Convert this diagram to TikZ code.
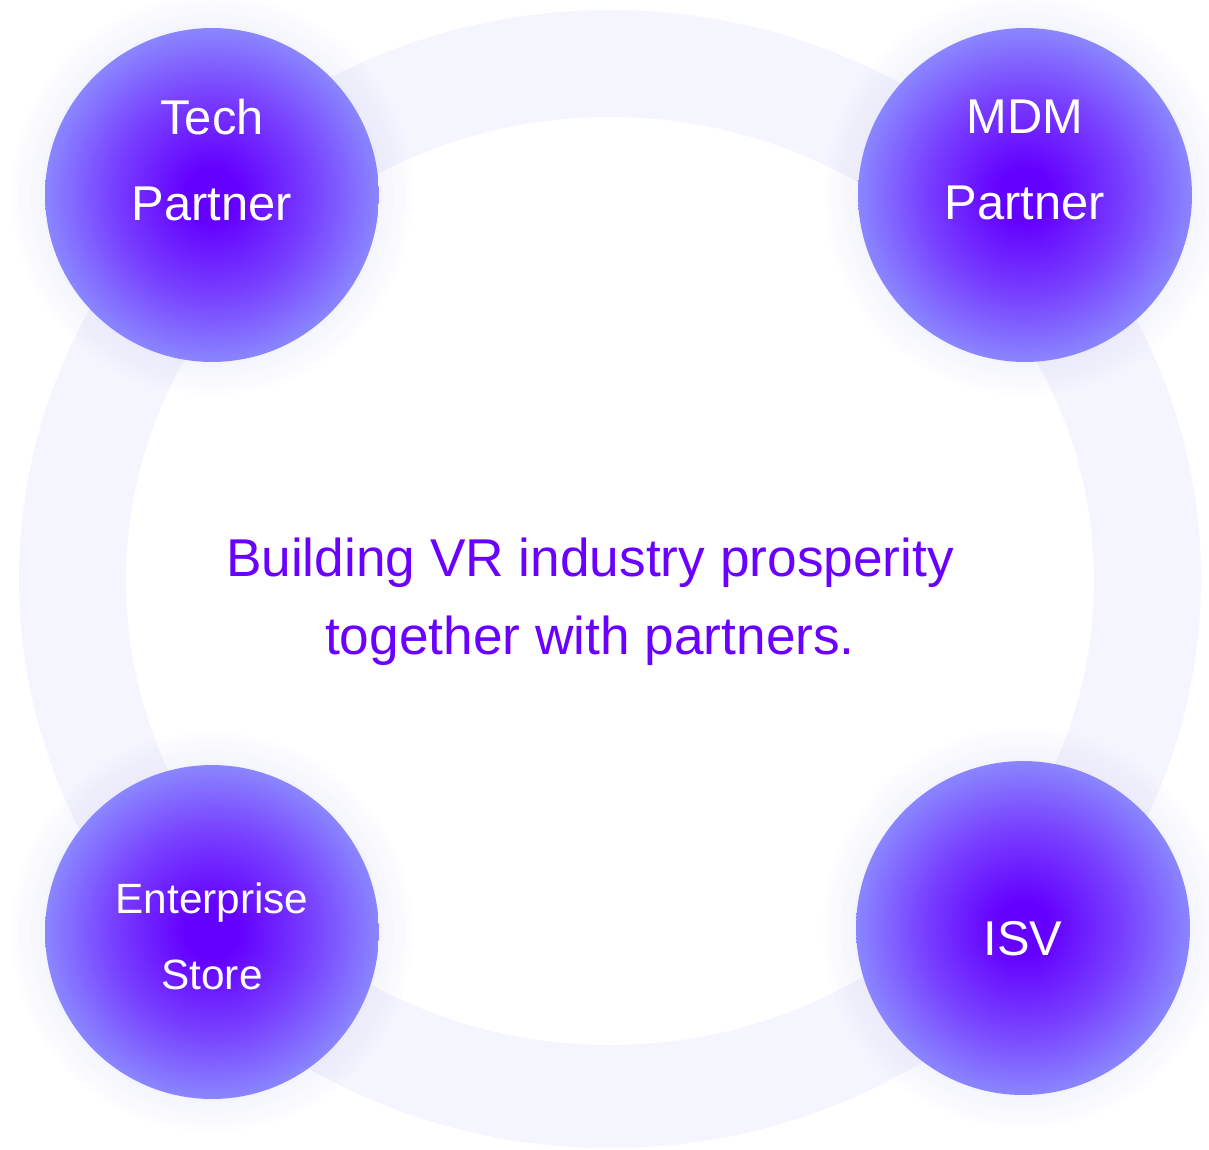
\documentclass[tikz,border=0pt]{standalone}
\usepackage{fontspec}
\setmainfont{Liberation Sans}
\usepackage{tikz}
\usetikzlibrary{positioning}

\definecolor{ringfill}{HTML}{F5F5FF}
\definecolor{glowfill}{HTML}{DCDCFA}
\definecolor{ballin}{HTML}{6400FF}
\definecolor{ballmid}{HTML}{7840FF}
\definecolor{ballout}{HTML}{8A86FF}
\definecolor{slogan}{HTML}{6A00FF}
\pgfdeclareradialshading{partnerball}{\pgfpoint{0bp}{0bp}}{color(0bp)=(ballin); color(4bp)=(ballin); color(15bp)=(ballmid); color(25bp)=(ballout); color(50bp)=(ballout)}

\begin{document}
\begin{tikzpicture}[x=0.02cm, y=-0.02cm,
  ball/.style = {circle, minimum size=6.68cm, inner sep=0pt, shading=partnerball},
  balltext/.style = {text=white, align=center, font=\fontsize{27.8}{49.3}\selectfont},
  smalltext/.style = {text=white, align=center, font=\fontsize{24.1}{43.1}\selectfont}]
\useasboundingbox (0,0) rectangle (1209,1149);
% ring behind the partners
\fill[ringfill, even odd rule] (610,579) ellipse (591 and 569) (610,581) ellipse (484 and 464);
% soft glow round each partner
\foreach \x/\y in {212/195, 1025/195, 212/932, 1023/928}
  \foreach \r in {170,176,...,200}
    \fill[glowfill, opacity=0.06] (\x,\y) circle (\r);
\node[ball] (tech) at (212,195) {};
\node[ball] (mdm) at (1025,195) {};
\node[ball] (store) at (212,932) {};
\node[ball] (isv) at (1023,928) {};
\node[balltext] (techtext) at (212,160) {Tech\\Partner};
\node[balltext] (mdmtext) at (1025,160) {MDM\\Partner};
\node[smalltext] (storetext) at (212,936) {Enterprise\\Store};
\node[balltext] (isvtext) at (1023,939) {ISV};
\node[text=slogan, align=center, font=\fontsize{30.3}{44.4}\selectfont] (slogan) at (590,602) {Building VR industry prosperity\\together with partners.};
\end{tikzpicture}
\end{document}
